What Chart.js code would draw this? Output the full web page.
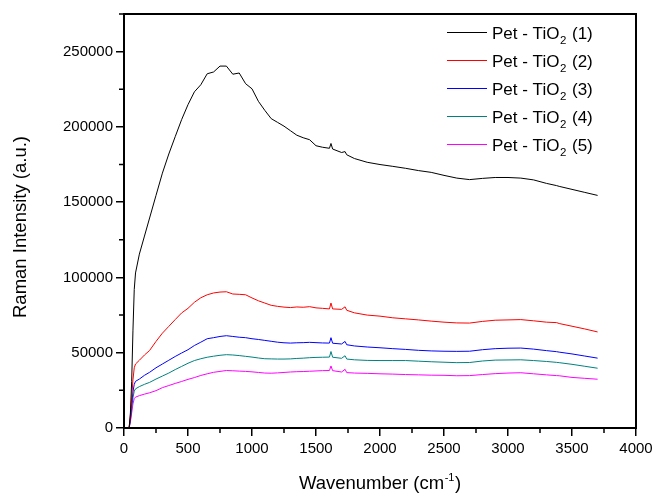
<!DOCTYPE html>
<html><head><meta charset="utf-8">
<script src="https://cdn.jsdelivr.net/npm/chart.js@4"></script>
<style>html,body{margin:0;padding:0;background:#fff}#wrap{width:657px;height:494px}</style>
</head><body><div id="wrap"><canvas id="c" width="657" height="494"></canvas></div>
<script>
// ---- data ----
const wavenumbers = [40, 50, 60, 70, 80, 90, 120, 160, 200,
  250, 300, 350, 400, 450, 500, 550, 600, 650, 700, 750, 800, 850, 900, 950, 1000, 1050, 1100, 1150, 1200, 1250, 1300, 1350, 1400, 1450, 1500, 1550,
  1605, 1617, 1630, 1700, 1727, 1740,
  1800, 1900, 2000, 2100, 2200, 2300, 2400, 2500, 2600, 2700, 2800, 2900, 3000, 3100, 3200, 3300,
  3380, 3400, 3500, 3600, 3700];

const intensity1 = [0, 10000, 31000, 65000, 92000, 103000, 115500, 127500, 139500,
  154500, 169300, 182000, 193500, 204800, 214800, 223300, 228000, 235300, 236500, 240400, 240400, 235000, 235800, 228700, 225300, 217000, 211000, 205500, 203000, 200500, 197500, 194500, 192800, 191500, 187500, 186500,
  185800, 189000, 185300, 183000, 183600, 181500,
  179000, 176500, 175000, 173800, 172500, 171000, 169800, 167800, 166000, 165000, 165800, 166400, 166400, 166000, 164800, 162500,
  161000, 160500, 158500, 156500, 154500];

const intensity2 = [0, 8000, 20000, 32000, 40000, 42500, 45000, 48500, 51500,
  57500, 63000, 67500, 72000, 76400, 79500, 83500, 86500, 88500, 89700, 90300, 90500, 89000, 88800, 88500, 86400, 84500, 83000, 81500, 80800, 80300, 80000, 80400, 80200, 80600, 79800, 79500,
  79100, 83000, 79100, 78800, 80500, 78200,
  76500, 75000, 74300, 73200, 72500, 71800, 71000, 70300, 69800, 69700, 70800, 71600, 71800, 72000, 71200, 70300,
  70000, 69400, 67600, 65800, 63800];

const intensity3 = [0, 6000, 16000, 24000, 29000, 31000, 32500, 35000, 37000,
  40000, 42500, 45000, 47500, 49800, 52000, 54800, 57000, 59300, 60000, 60800, 61300, 60800, 60300, 60000, 59300, 58800, 58200, 57600, 57000, 56600, 56400, 56600, 56700, 56900, 56700, 56500,
  56400, 60000, 56300, 55800, 57500, 55300,
  54500, 53800, 53300, 52700, 52200, 51600, 51200, 51000, 50900, 51000, 52000, 52700, 53000, 53100, 52400, 51400,
  50700, 50400, 49200, 47800, 46400];

const intensity4 = [0, 5000, 13000, 20000, 24500, 26000, 27500, 29000, 30300,
  32500, 34500, 36500, 38800, 40900, 43000, 44800, 46000, 47000, 47700, 48300, 48700, 48500, 48100, 47600, 47100, 46500, 46000, 45900, 45800, 45800, 45900, 46200, 46400, 46700, 46900, 47000,
  47100, 50800, 47000, 46300, 48000, 45800,
  45300, 44900, 44800, 44800, 44800, 44400, 44000, 43700, 43400, 43500, 44500, 45100, 45200, 45300, 44800, 44200,
  43600, 43400, 42300, 41000, 39700];

const intensity5 = [0, 4000, 10000, 16000, 19500, 20500, 21500, 22500, 23400,
  24800, 26800, 28200, 29600, 30900, 32300, 33500, 34900, 36000, 37000, 37600, 38200, 38000, 37800, 37600, 37300, 36900, 36500, 36400, 36600, 36900, 37200, 37400, 37500, 37700, 37900, 38100,
  38200, 41200, 38100, 37200, 39000, 36800,
  36500, 36300, 36000, 35800, 35500, 35300, 35100, 35000, 34700, 34800, 35500, 36100, 36500, 36700, 36000, 35300,
  34800, 34700, 33600, 33000, 32400];

const seriesNames = ['(1)', '(2)', '(3)', '(4)', '(5)'];
const legendPrefix = 'Pet - TiO';
const legendSub = '2';
const xMajorTicks = [0, 500, 1000, 1500, 2000, 2500, 3000, 3500, 4000];
const yMajorTicks = [0, 50000, 100000, 150000, 200000, 250000];
const xTitleMain = 'Wavenumber (cm';
const xTitleSup = '-1';
const yTitle = 'Raman Intensity (a.u.)';

// ---- styles ----
const FONT = "'Liberation Sans', Arial, sans-serif";
const colors = ['#000000', '#ff0000', '#0000ff', '#008080', '#ff00ff'];
const allSeries = [intensity1, intensity2, intensity3, intensity4, intensity5];

const datasets = allSeries.map((s, i) => ({
  label: legendPrefix + legendSub + ' ' + seriesNames[i],
  data: wavenumbers.map((w, k) => ({x: w, y: s[k]})),
  borderColor: colors[i],
  backgroundColor: colors[i],
  borderWidth: 1,
  pointRadius: 0,
  showLine: true,
  tension: 0,
  fill: false
}));

const decor = {
  id: 'decor',
  afterDraw(chart) {
    const ctx = chart.ctx;
    const a = chart.chartArea;
    const xs = chart.scales.x, ys = chart.scales.y;
    ctx.save();
    ctx.strokeStyle = '#000';
    // minor ticks
    ctx.lineWidth = 1.5;
    ctx.beginPath();
    for (let v = 250; v < 4000; v += 500) {
      const px = xs.getPixelForValue(v);
      ctx.moveTo(px, a.bottom); ctx.lineTo(px, a.bottom + 5);
    }
    for (let v = 25000; v <= 275000; v += 50000) {
      const py = ys.getPixelForValue(v);
      ctx.moveTo(a.left, py); ctx.lineTo(a.left - 5, py);
    }
    ctx.stroke();
    // frame
    ctx.lineWidth = 2;
    ctx.strokeRect(a.left, a.top, a.right - a.left, a.bottom - a.top);
    // y title
    ctx.fillStyle = '#000';
    ctx.save();
    ctx.translate(21, (a.top + a.bottom) / 2 + 6);
    ctx.rotate(-Math.PI / 2);
    ctx.font = '18.5px ' + FONT;
    ctx.textAlign = 'center';
    ctx.textBaseline = 'middle';
    ctx.fillText(yTitle, 0, 0);
    ctx.restore();
    // x title with superscript
    const f1 = '18.5px ' + FONT, f2 = '11px ' + FONT;
    ctx.textBaseline = 'alphabetic';
    ctx.textAlign = 'left';
    ctx.font = f1;
    const w1 = ctx.measureText(xTitleMain).width;
    const w3 = ctx.measureText(')').width;
    ctx.font = f2;
    const w2 = ctx.measureText(xTitleSup).width;
    const cx = (a.left + a.right) / 2;
    let x0 = cx - (w1 + w2 + w3 + 1) / 2;
    const by = 489;
    ctx.font = f1; ctx.fillText(xTitleMain, x0, by);
    ctx.font = f2; ctx.fillText(xTitleSup, x0 + w1 + 0.5, by - 8);
    ctx.font = f1; ctx.fillText(')', x0 + w1 + w2 + 1, by);
    // legend
    const lx0 = 447, lx1 = 487, tx = 492, ly0 = 32, dy = 28;
    chart.data.datasets.forEach((ds, i) => {
      const y = ly0 + i * dy;
      ctx.strokeStyle = colors[i];
      ctx.lineWidth = 1;
      ctx.beginPath(); ctx.moveTo(lx0, y + 0.5); ctx.lineTo(lx1, y + 0.5); ctx.stroke();
      ctx.fillStyle = '#000';
      ctx.font = '17px ' + FONT;
      const b = y + 7;
      ctx.fillText(legendPrefix, tx, b);
      let x = tx + ctx.measureText(legendPrefix).width + 0.5;
      ctx.font = '11.5px ' + FONT;
      ctx.fillText(legendSub, x, b + 5);
      x += ctx.measureText(legendSub).width;
      ctx.font = '17px ' + FONT;
      ctx.fillText(' ' + seriesNames[i], x + 1, b);
    });
    ctx.restore();
  }
};

new Chart(document.getElementById('c'), {
  type: 'scatter',
  data: { datasets },
  plugins: [decor],
  options: {
    responsive: false,
    animation: false,
    devicePixelRatio: 1,
    layout: { padding: { left: 0, right: 21, top: 14, bottom: 0 } },
    plugins: { legend: { display: false }, tooltip: { enabled: false } },
    scales: {
      x: {
        type: 'linear', min: 0, max: 4000,
        afterFit: (s) => { s.height = 66; },
        ticks: {
          stepSize: 250, autoSkip: false, maxRotation: 0, padding: 4,
          color: '#000', font: { family: FONT, size: 15 },
          callback: (v) => xMajorTicks.includes(v) ? String(v) : ''
        },
        grid: {
          drawOnChartArea: false, tickLength: 8, lineWidth: 1.5,
          tickColor: (c) => (c.tick && xMajorTicks.includes(c.tick.value)) ? '#000' : 'rgba(0,0,0,0)'
        },
        border: { display: false },
        title: { display: false }
      },
      y: {
        type: 'linear', min: 0, max: 275000,
        afterFit: (s) => { s.width = 124; },
        ticks: {
          stepSize: 25000, autoSkip: false, padding: 3,
          color: '#000', font: { family: FONT, size: 15 },
          callback: (v) => yMajorTicks.includes(v) ? String(v) : ''
        },
        grid: {
          drawOnChartArea: false, tickLength: 8, lineWidth: 1.5,
          tickColor: (c) => (c.tick && yMajorTicks.includes(c.tick.value)) ? '#000' : 'rgba(0,0,0,0)'
        },
        border: { display: false },
        title: { display: false }
      }
    }
  }
});
</script>
</body></html>
